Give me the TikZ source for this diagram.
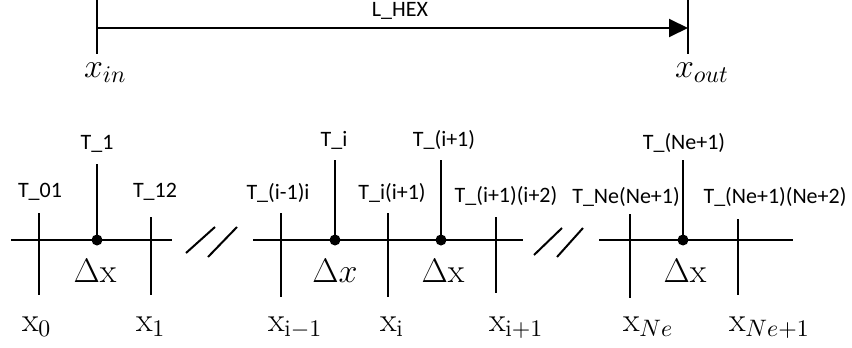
\RequirePackage{fix-cm}
\documentclass[tikz,border=0pt]{standalone}
\usepackage{fontspec}
\newfontfamily\labfamily{Carlito}
\usetikzlibrary{arrows.meta}
\begin{document}
\begin{tikzpicture}[x=0.5pt,y=-0.5pt,line width=1pt,
  lab/.style={font=\labfamily\fontsize{11}{13}\selectfont, inner sep=0pt, anchor=base},
  mth/.style={font=\fontsize{17}{20}\selectfont, inner sep=0pt, anchor=base west},
  dlt/.style={font=\fontsize{17}{20}\selectfont, inner sep=0pt, anchor=base},
  dotn/.style={circle, fill, inner sep=0pt, minimum size=5.5pt}]
\useasboundingbox (0,0) rectangle (852,348);
% ---------- top ----------
\coordinate (inT) at (97,0);  \coordinate (inB) at (97,54);
\coordinate (outT) at (688,0); \coordinate (outB) at (688,54);
\coordinate (aS) at (97,28);  \coordinate (aE) at (688,28);
\draw (inT) -- (inB);
\draw (outT) -- (outB);
\draw[-{Triangle[length=9.5pt,width=9pt]}] (aS) -- (aE);
\node[lab] (lhex) at (400,17) {L\_HEX};
\node[mth] (xin) at (83,77) {$x_{in}$};
\node[mth] (xout) at (674,77) {$x_{out}$};
% ---------- section 1 ----------
\coordinate (s1a) at (11,240); \coordinate (s1b) at (172,240);
\draw (s1a) -- (s1b);
\coordinate (t0a) at (39,213); \coordinate (t0b) at (39,295);
\coordinate (t1a) at (151,217); \coordinate (t1b) at (151,295);
\draw (t0a) -- (t0b);
\draw (t1a) -- (t1b);
\coordinate (v1) at (97,164);
\node[dotn] (d1) at (97,240) {};
\draw (v1) -- (d1.center);
\node[lab] (T01) at (40,197) {T\_01};
\node[lab] (T1) at (97,149) {T\_1};
\node[lab] (T12) at (155,197) {T\_12};
\node[dlt] (dx1) at (95,282) {$\Delta\mathrm{x}$};
\node[mth] (x0) at (21,331) {$\mathrm{x}_0$};
\node[mth] (x1) at (135,331) {$\mathrm{x}_1$};
% slashes 1
\coordinate (sa1) at (186,253); \coordinate (sa2) at (215,227);
\coordinate (sb1) at (208,257); \coordinate (sb2) at (237,227);
\draw (sa1) -- (sa2);
\draw (sb1) -- (sb2);
% ---------- section 2 ----------
\coordinate (s2a) at (253,240); \coordinate (s2b) at (523,240);
\draw (s2a) -- (s2b);
\coordinate (tia) at (281,213); \coordinate (tib) at (281,297);
\coordinate (tja) at (388,213); \coordinate (tjb) at (388,297);
\coordinate (tka) at (496,217); \coordinate (tkb) at (496,293);
\draw (tia) -- (tib);
\draw (tja) -- (tjb);
\draw (tka) -- (tkb);
\coordinate (v2) at (335,160); \coordinate (v3) at (441,160);
\node[dotn] (d2) at (335,240) {};
\node[dotn] (d3) at (441,240) {};
\draw (v2) -- (d2.center);
\draw (v3) -- (d3.center);
\node[lab] (Tim1i) at (278,199) {T\_(i-1)i};
\node[lab] (Ti) at (334,146) {T\_i};
\node[lab] (Tii1) at (392,199) {T\_i(i+1)};
\node[lab] (Ti1) at (444,146) {T\_(i+1)};
\node[lab] (Ti1i2) at (506,202) {T\_(i+1)(i+2)};
\node[dlt] (dx2) at (335,282) {$\Delta x$};
\node[dlt] (dx3) at (443,282) {$\Delta\mathrm{x}$};
\node[mth] (xim1) at (267,331) {$\mathrm{x}_{\mathrm{i}-1}$};
\node[mth] (xi) at (379,331) {$\mathrm{x}_{\mathrm{i}}$};
\node[mth] (xip1) at (488,331) {$\mathrm{x}_{\mathrm{i}+1}$};
% slashes 2
\coordinate (sc1) at (534,255); \coordinate (sc2) at (562,228);
\coordinate (sd1) at (557,257); \coordinate (sd2) at (583,228);
\draw (sc1) -- (sc2);
\draw (sd1) -- (sd2);
% ---------- section 3 ----------
\coordinate (s3a) at (599,240); \coordinate (s3b) at (793,240);
\draw (s3a) -- (s3b);
\coordinate (tna) at (630,214); \coordinate (tnb) at (630,298);
\coordinate (tma) at (738,219); \coordinate (tmb) at (738,295);
\draw (tna) -- (tnb);
\draw (tma) -- (tmb);
\coordinate (v4) at (683,160);
\node[dotn] (d4) at (683,240) {};
\draw (v4) -- (d4.center);
\node[lab] (TNe) at (626,203) {T\_Ne(Ne+1)};
\node[lab] (TNe1) at (684,149) {T\_(Ne+1)};
\node[lab] (TNe2) at (775,203) {T\_(Ne+1)(Ne+2)};
\node[dlt] (dx4) at (685,282) {$\Delta\mathrm{x}$};
\node[mth] (xNe) at (622,331) {$\mathrm{x}_{Ne}$};
\node[mth] (xNe1) at (728,331) {$\mathrm{x}_{Ne+1}$};
\end{tikzpicture}
\end{document}
